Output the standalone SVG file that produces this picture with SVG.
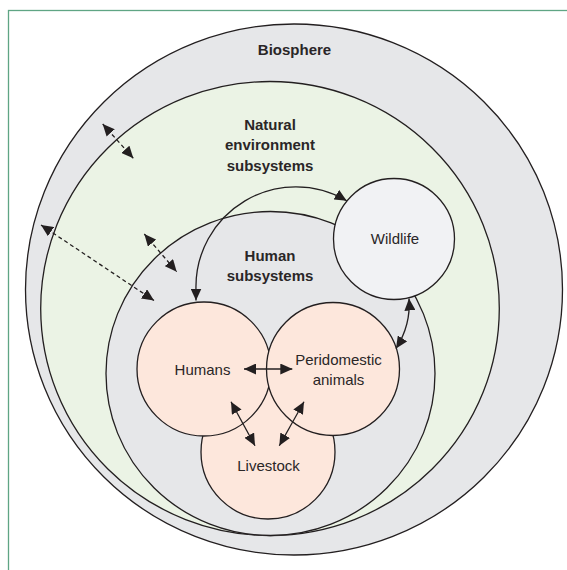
<svg xmlns="http://www.w3.org/2000/svg" width="567" height="570" viewBox="0 0 567 570">
<style>
.ring{stroke:#231f20;stroke-width:1.3}
.gray{fill:#e6e7e9}
.green{fill:#ebf3e5}
.wild{fill:#f1f2f4}
.peach{fill:#fde7dc}
.t{font-family:"Liberation Sans",Arial,sans-serif;font-size:15px;fill:#2a2627;text-anchor:middle}
.b{font-weight:bold}
.c{fill:none;stroke:#231f20;stroke-width:1.3;marker-start:url(#ah);marker-end:url(#ah)}
.d{stroke-dasharray:4 3}
</style>
<defs>
<marker id="ah" viewBox="0 0 12 11" refX="12" refY="5.5" markerWidth="12" markerHeight="11" markerUnits="userSpaceOnUse" orient="auto-start-reverse">
<path d="M0,0 L12,5.5 L0,11 z" fill="#231f20"/>
</marker>
</defs>
<rect x="8.5" y="10.5" width="600" height="600" fill="#ffffff" stroke="#5fa584" stroke-width="1.3"/>
<g id="biosphere">
<ellipse class="ring gray" cx="294" cy="289.5" rx="268.5" ry="265.5"/>
<text class="t b" x="294.5" y="55">Biosphere</text>
</g>
<g id="natural-environment">
<ellipse class="ring green" cx="270" cy="308.5" rx="229.3" ry="227"/>
<text class="t b" x="270" y="129.5">Natural</text>
<text class="t b" x="270" y="150">environment</text>
<text class="t b" x="270" y="170.5">subsystems</text>
</g>
<g id="human-subsystems">
<ellipse class="ring gray" cx="270.5" cy="373.5" rx="164.5" ry="162"/>
<text class="t b" x="270" y="260.5">Human</text>
<text class="t b" x="270" y="280.5">subsystems</text>
</g>
<g id="livestock">
<circle class="ring peach" cx="268" cy="452" r="67"/>
<text class="t" x="268.5" y="471">Livestock</text>
</g>
<g id="humans">
<circle class="ring peach" cx="204" cy="369" r="67"/>
<text class="t" x="202.5" y="374.5">Humans</text>
</g>
<g id="peridomestic">
<circle class="ring peach" cx="333" cy="369" r="66.5"/>
<text class="t" x="338.5" y="365">Peridomestic</text>
<text class="t" x="338.5" y="384.5">animals</text>
</g>
<g id="wildlife">
<circle class="ring wild" cx="394" cy="239" r="60.5"/>
<text class="t" x="395" y="244">Wildlife</text>
</g>
<g id="connectors">
<path class="c d" d="M102.7,124 L133.3,158.3"/>
<path class="c d" d="M41,225 L154,300.5"/>
<path class="c d" d="M144.3,234 L176.7,271.7"/>
<path class="c" d="M196,300.5 V290 A100,100 0 0 1 346.7,200.7"/>
<path class="c" d="M409,298.5 Q411,325 396,348.5"/>
<path class="c" d="M244,369 L292.3,369"/>
<path class="c" d="M231,401.7 L255,445.7"/>
<path class="c" d="M304,401.7 L279.3,445.7"/>
</g>
</svg>
